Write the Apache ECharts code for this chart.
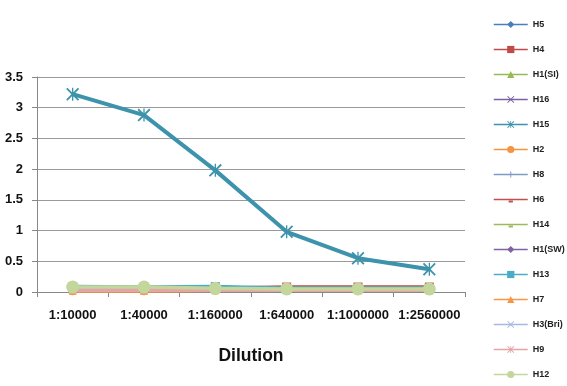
<!DOCTYPE html>
<html><head><meta charset="utf-8">
<script src="https://cdn.jsdelivr.net/npm/echarts@6/dist/echarts.min.js"></script>
<style>html,body{margin:0;padding:0;background:#fff}#c{width:567px;height:386px}</style>
</head><body><div id="c"></div>
<script>
const categories = ['1:10000','1:40000','1:160000','1:640000','1:1000000','1:2560000'];
const seriesNames = ['H5','H4','H1(SI)','H16','H15','H2','H8','H6','H14','H1(SW)','H13','H7','H3(Bri)','H9','H12'];
const H5 = [0.05,0.04,0.04,0.04,0.04,0.04];
const H4 = [0.06,0.06,0.06,0.08,0.08,0.08];
const H1SI = [0.05,0.05,0.05,0.05,0.05,0.05];
const H16 = [0.04,0.04,0.04,0.04,0.04,0.04];
const H15 = [3.22,2.88,1.98,0.98,0.55,0.37];
const H2 = [0.02,0.02,0.03,0.03,0.03,0.03];
const H8 = [0.04,0.04,0.04,0.04,0.04,0.04];
const H6 = [0.05,0.05,0.05,0.05,0.05,0.05];
const H14 = [0.06,0.06,0.06,0.06,0.06,0.06];
const H1SW = [0.04,0.04,0.04,0.04,0.04,0.04];
const H13 = [0.09,0.08,0.09,0.06,0.06,0.06];
const H7 = [0.02,0.02,0.03,0.03,0.03,0.03];
const H3Bri = [0.04,0.04,0.04,0.04,0.04,0.04];
const H9 = [0.03,0.03,0.03,0.03,0.03,0.03];
const H12 = [0.08,0.08,0.06,0.05,0.05,0.05];
const yTicks = [0,0.5,1,1.5,2,2.5,3,3.5];

const dataList = [H5,H4,H1SI,H16,H15,H2,H8,H6,H14,H1SW,H13,H7,H3Bri,H9,H12];
const colors = ['#4A7EBB','#BE4B48','#98B954','#7D60A0','#3C93AB','#F69240','#7E9BC8','#C0504D','#9BBB59','#8064A2','#4BACC6','#F79646','#A7B9E3','#E6A5A5','#C3D69B'];
const BOUNDS = ' M0,0 L0.01,0 L0.01,0.01 Z M9.99,9.99 L10,9.99 L10,10 Z';
const X = 'path://M0,1 L1,0 L5,4 L9,0 L10,1 L6,5 L10,9 L9,10 L5,6 L1,10 L0,9 L4,5 Z';
const STAR = 'path://M0,1 L1,0 L5,4 L9,0 L10,1 L6,5 L10,9 L9,10 L5,6 L1,10 L0,9 L4,5 Z M4.5,0 L5.5,0 L5.5,10 L4.5,10 Z';
const VBAR = 'path://M4.3,1 L5.7,1 L5.7,9 L4.3,9 Z' + BOUNDS;
const DASH = 'path://M2,6.5 L8,6.5 L8,9 L2,9 Z' + BOUNDS;
const symbols = ['diamond','rect',
  'triangle', X, STAR, 'circle', VBAR, DASH, DASH, 'diamond','rect','triangle', X, STAR, 'circle'];
const sizes = [7,9,8,8,13,9,8,8,8,7,9,8,8,8,13];

const series = seriesNames.map((n,i)=>({
  name:n, type:'line', data:dataList[i], symbol:symbols[i], symbolSize:sizes[i],
  lineStyle:{width: i===4?4:3.5, color:colors[i]},
  itemStyle:{color:colors[i]},
  emphasis:{disabled:true}, animation:false, z: i===4?3:2
}));

const chart = echarts.init(document.getElementById('c'),null,{renderer:'canvas'});
chart.setOption({
  animation:false,
  grid:{left:37,right:102,top:77,bottom:94,containLabel:false},
  legend:{
    orient:'vertical', left:493, top:20, padding:0, itemWidth:34, itemHeight:9, itemGap:16,
    lineStyle:{width:1.5},
    textStyle:{fontFamily:'Liberation Sans',fontSize:9,fontWeight:'bold',color:'#222'},
    data:seriesNames
  },
  xAxis:{
    type:'category', data:categories, boundaryGap:true,
    axisLine:{lineStyle:{color:'#888'}},
    axisTick:{show:true,alignWithLabel:false,length:5,lineStyle:{color:'#888'}},
    axisLabel:{fontFamily:'Liberation Sans',fontWeight:'bold',fontSize:13,color:'#111',margin:17,interval:0},
    name:'Dilution', nameLocation:'middle', nameGap:55,
    nameTextStyle:{fontFamily:'Liberation Sans',fontWeight:'bold',fontSize:17.5,color:'#111'}
  },
  yAxis:{
    type:'value', min:0, max:3.5, interval:0.5,
    axisLine:{show:true,lineStyle:{color:'#888'}},
    axisTick:{show:true,length:5,lineStyle:{color:'#888'}},
    splitLine:{lineStyle:{color:'#999',width:1}},
    axisLabel:{fontFamily:'Liberation Sans',fontWeight:'bold',fontSize:13,color:'#111',margin:14,
      formatter:v=>yTicks.includes(v)?String(v):''}
  },
  series:series
});
</script></body></html>
